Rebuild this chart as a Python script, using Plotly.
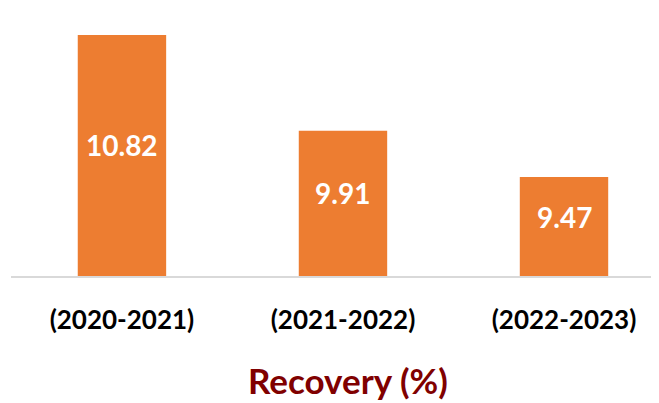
import plotly.graph_objects as go

categories = ["(2020-2021)", "(2021-2022)", "(2022-2023)"]
recovery = [10.82, 9.91, 9.47]
y_min = 8.53
y_max = 11.0
axis_title = "Recovery (%)"

fig = go.Figure()
fig.add_trace(go.Bar(
    x=categories, y=[v - y_min for v in recovery], base=y_min,
    width=0.4, marker=dict(color="#ED7D31", line=dict(width=0)),
    hoverinfo="skip",
))
for c, v in zip(categories, recovery):
    fig.add_annotation(x=c, y=(v + y_min) / 2, text=f"<b>{v:.2f}</b>", showarrow=False,
                       yshift=10, font=dict(family="Lato", size=28, color="white"))

fig.add_annotation(xref="paper", yref="paper", x=0.5137, y=-0.40,
                   xanchor="center", yanchor="middle", showarrow=False,
                   text=f"<b>{axis_title}</b>",
                   font=dict(family="Lato", size=35, color="#800000"))

fig.update_layout(
    width=659, height=403,
    margin=dict(l=3, r=0, t=8, b=135),
    paper_bgcolor="white", plot_bgcolor="white",
    showlegend=False,
    xaxis=dict(
        range=[-0.502, 2.466], showgrid=False, zeroline=False,
        showline=True, linecolor="#D9D9D9", linewidth=2,
        ticks="", ticklabelstandoff=20,
        tickfont=dict(family="Lato", size=26, color="black", weight="bold"),
    ),
    yaxis=dict(range=[y_min, y_max], visible=False, showgrid=False, zeroline=False),
)
fig.write_html("out.html")
